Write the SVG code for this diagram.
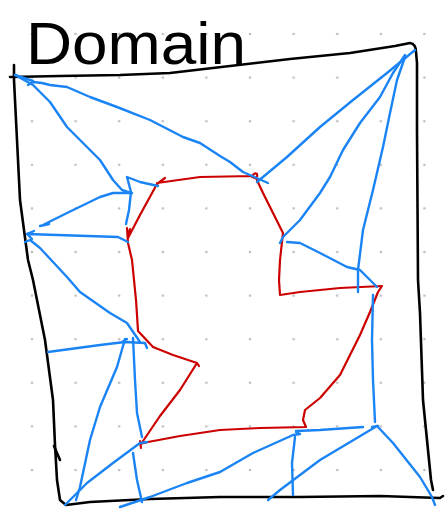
<svg xmlns="http://www.w3.org/2000/svg" width="447" height="509" viewBox="0 0 447 509">
<style>
.bk{fill:none;stroke:#000;stroke-width:2.6;stroke-linecap:round;stroke-linejoin:round}
.bl{fill:none;stroke:#1a84f5;stroke-width:2.4;stroke-linecap:round;stroke-linejoin:round}
.rd{fill:none;stroke:#cc0000;stroke-width:2.2;stroke-linecap:round;stroke-linejoin:round}
.title{font-family:"Liberation Sans",Arial,sans-serif;font-size:60px;fill:#000}
</style>
<defs>
<pattern id="dots" x="10.2" y="12.2" width="43.6" height="43.6" patternUnits="userSpaceOnUse">
<circle cx="21.8" cy="21.8" r="1.3" fill="#bdbdbd"/>
</pattern>
</defs>
<rect width="447" height="509" fill="#fff"/>
<g id="grid"><rect x="10" y="12" width="437" height="480" fill="url(#dots)"/></g>
<g id="title"><text class="title" x="26" y="64" textLength="220" lengthAdjust="spacingAndGlyphs">Domain</text></g>
<g id="frame">
<path class="bk" d="M10,77 L60,76 L120,75 L170,73 L230,66 L290,59 L350,53 L395,46 L410,43 Q416,44 416,52 L417,63 L417,130 L418,280 L420,313 L423,400 L428,450 L431,480 L433,490"/>
<path class="bk" d="M14,65 L14,80 L17,140 L20,200 L28,260 L33,280 L45,340 L53,400 L55,445 L57,480 L60,500 L66,505 L90,502 L150,499 L220,497 L300,497 L380,496 L440,498 L443,496"/>
<path class="bk" d="M54,446 L60,460"/>
</g>
<g id="boundary">
<path class="rd" d="M157,183 L200,177 L253,176 M252,177 Q254,172 257,174 Q258,178 254,178 M256,178 L263,193 L270,207 L283,233 L280,260 L279,280 L280,295 L300,292 L340,288 L382,286 L378,292 L370,312 L360,335 L355,345 L340,375 L320,398 L305,410 L303,420 L306,427 L260,428 L220,430 L180,436 L148,442 L140,444 M140,441 L141,448 M141,444 L160,416 L180,390 L197,363 L199,366 M197,363 L173,355 L153,347 L138,331 L137,315 L136,300 L134,280 L132,260 L128,243 L127,228 M128,236 L130,229 M128,238 L140,215 L157,184 L165,178"/>
</g>
<g id="mesh">
<path class="bl" d="M15,75 L33,81"/>
<path class="bl" d="M28,85 L33,82 L42,83 L50,85 L67,87 L90,97 L117,107 L150,120 L183,137 L200,143 L220,156 L230,162 L243,172 L268,183"/>
<path class="bl" d="M15,75 L33,85 L50,102 L67,127 L87,147 L100,160 L113,180 L122,190 L131,193"/>
<path class="bl" d="M158,186 L140,182 L127,177 L131,192 L129,210 L126,224"/>
<path class="bl" d="M132,193 L113,193 L100,197 L67,213 L43,225 M40,226 L49,224"/>
<path class="bl" d="M128,242 L118,237 L27,234 M27,234 L34,231 M27,234 L32,239"/>
<path class="bl" d="M25,242 L30,240 L40,248 L67,277 L80,292 L110,313 L127,323 L140,342"/>
<path class="bl" d="M48,352 L100,345 L125,342 L145,343 L147,348"/>
<path class="bl" d="M125,339 L117,367 L100,407 L90,440 L80,487 L76,500 M122,342 L127,339"/>
<path class="bl" d="M133,338 L135,380 L137,413 L142,437 M133,453 L137,480 L142,502"/>
<path class="bl" d="M65,505 L87,483 L113,463 L140,443 L147,442"/>
<path class="bl" d="M120,507 L150,497 L187,483 L220,472 L253,453 L293,435 L300,434 M296,432 L300,434"/>
<path class="bl" d="M295,437 L292,463 L293,495"/>
<path class="bl" d="M296,431 L320,430 L363,427"/>
<path class="bl" d="M268,500 L280,490 L320,460 L377,426 M372,427 L378,426"/>
<path class="bl" d="M377,426 L393,443 L420,477 L432,497 L435,505"/>
<path class="bl" d="M373,295 L372,340 L373,380 L375,422"/>
<path class="bl" d="M415,50 L387,73 L353,100 L320,127 L287,157 L257,182"/>
<path class="bl" d="M405,55 L393,73 L380,97 L360,123 L343,150 L330,177 L320,193 L300,220 L283,237 L280,243"/>
<path class="bl" d="M405,57 L397,80 L390,113 L383,147 L373,190 L363,230 L358,270 L358,292"/>
<path class="bl" d="M287,242 L300,243 L320,253 L347,267 L360,270 L370,280 L377,287"/>
</g>
</svg>
